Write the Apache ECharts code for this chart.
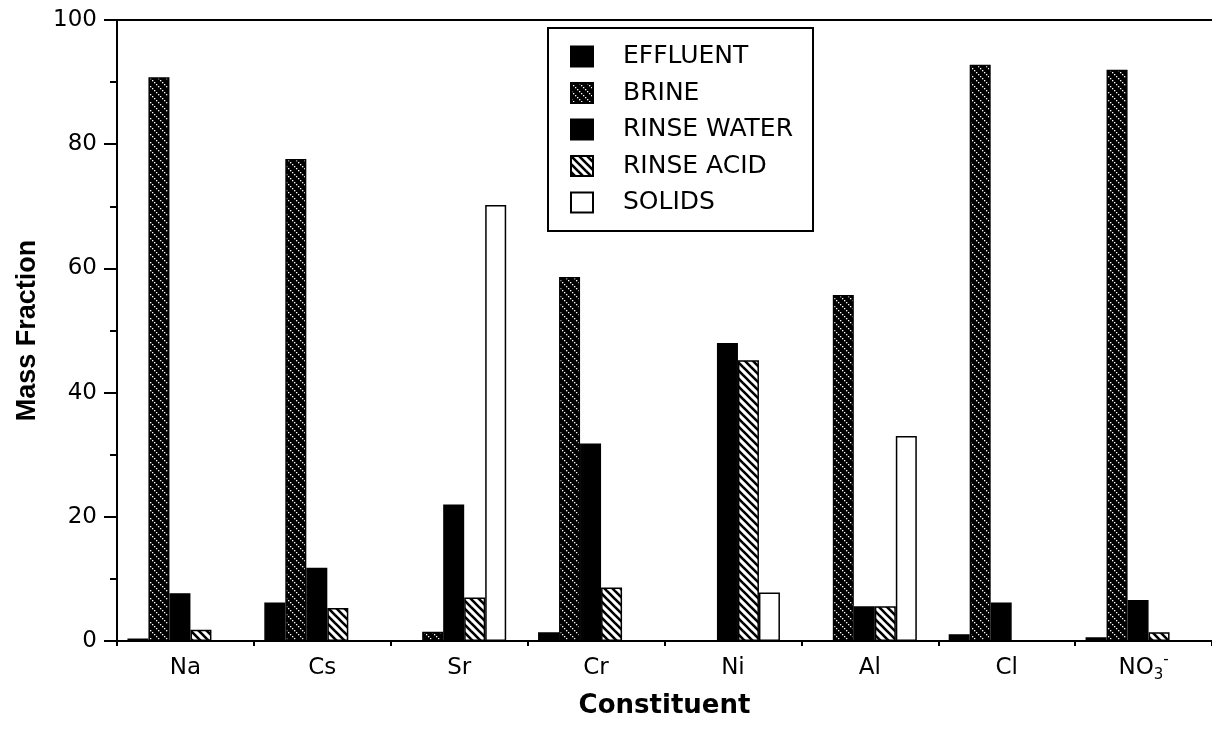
<!DOCTYPE html>
<html>
<head>
<meta charset="utf-8">
<script src="https://cdn.jsdelivr.net/npm/echarts@6/dist/echarts.min.js"></script>
<style>
  html, body { margin: 0; padding: 0; background: #fff; }
  #main { width: 1212px; height: 742px; }
</style>
</head>
<body>
<div id="main"></div>
<script>
const constituents = ['Na', 'Cs', 'Sr', 'Cr', 'Ni', 'Al', 'Cl', 'NO3']
const effluent = [0.4, 6.2, 0, 1.4, 0, 0, 1.1, 0.6]
const brine = [90.8, 77.6, 1.5, 58.6, 0, 55.7, 92.8, 92.0]
const rinseWater = [7.7, 11.8, 22.0, 31.8, 48.0, 5.6, 6.2, 6.6]
const rinseAcid = [1.8, 5.3, 7.0, 8.6, 45.2, 5.6, 0, 1.4]
const solids = [0, 0, 70.2, 0, 7.8, 33.0, 0, 0]
const yTicks = { min: 0, max: 100, interval: 20 }

// fill patterns
function brinePattern() {
  const c = document.createElement('canvas')
  c.width = 8
  c.height = 8
  const g = c.getContext('2d')
  g.fillStyle = '#000'
  g.fillRect(0, 0, 8, 8)
  g.fillStyle = '#fff'
  ;[0, 2, 4, 6].forEach((t) => g.fillRect(t, t, 1.3, 1.3))
  return { image: c, repeat: 'repeat' }
}
function acidPattern() {
  const c = document.createElement('canvas')
  c.width = 8
  c.height = 8
  const g = c.getContext('2d')
  g.fillStyle = '#fff'
  g.fillRect(0, 0, 8, 8)
  g.strokeStyle = '#000'
  g.lineWidth = 2.6
  ;[-8, 0, 8].forEach((k) => {
    g.beginPath()
    g.moveTo(k - 1, -1)
    g.lineTo(k + 9, 9)
    g.stroke()
  })
  return { image: c, repeat: 'repeat' }
}

const font = 'DejaVu Sans'
const border = { borderColor: '#000', borderWidth: 1.5 }
const black = { color: '#000', width: 2 }
const box = { left: 117, top: 20, width: 1104, height: 621 }

function barSeries(name, data, color) {
  return {
    name,
    type: 'bar',
    data,
    barWidth: 21,
    barGap: '0%',
    itemStyle: Object.assign({ color }, border)
  }
}

const chart = echarts.init(document.getElementById('main'))

const option = {
  animation: false,
  backgroundColor: '#fff',
  // second grid only carries the short ticks and the top frame line
  grid: [Object.assign({}, box), Object.assign({}, box)],
  legend: {
    data: ['EFFLUENT', 'BRINE', 'RINSE WATER', 'RINSE ACID', 'SOLIDS'],
    orient: 'vertical',
    left: 548,
    top: 28,
    icon: 'rect',
    itemWidth: 22,
    itemHeight: 20,
    itemGap: 11.5,
    padding: [16, 20, 16, 22],
    borderColor: '#000',
    borderWidth: 2,
    backgroundColor: '#fff',
    textStyle: {
      fontFamily: font,
      fontSize: 25,
      color: '#000',
      padding: [0, 0, 0, 25]
    }
  },
  xAxis: [
    {
      type: 'category',
      gridIndex: 0,
      data: constituents,
      name: 'Constituent',
      nameLocation: 'middle',
      nameGap: 52,
      nameTextStyle: {
        fontFamily: font,
        fontWeight: 'bold',
        fontSize: 26,
        color: '#000'
      },
      axisLine: { lineStyle: black },
      axisTick: { alignWithLabel: true, length: 11, lineStyle: black },
      axisLabel: {
        interval: 0,
        margin: 12,
        fontFamily: font,
        fontSize: 23,
        color: '#000',
        lineHeight: 30,
        formatter: (v) => (v === 'NO3' ? '{n|NO}{s|3}{p|-}' : v),
        rich: {
          n: { fontFamily: font, fontSize: 23, lineHeight: 30, color: '#000' },
          s: { fontFamily: font, fontSize: 15, lineHeight: 14, verticalAlign: 'bottom', color: '#000' },
          p: { fontFamily: font, fontSize: 15, lineHeight: 22, verticalAlign: 'top', color: '#000' }
        }
      },
      splitLine: { show: false }
    },
    {
      // short ticks between the groups
      type: 'category',
      gridIndex: 1,
      data: constituents,
      position: 'bottom',
      axisLine: { show: true, lineStyle: black },
      axisTick: { show: true, interval: 0, length: 5, lineStyle: black },
      axisLabel: { show: false },
      splitLine: { show: false }
    },
    {
      // frame line along the top
      type: 'category',
      gridIndex: 1,
      data: constituents,
      position: 'top',
      axisLine: { show: true, lineStyle: black },
      axisTick: { show: false },
      axisLabel: { show: false },
      splitLine: { show: false }
    }
  ],
  yAxis: [
    {
      type: 'value',
      gridIndex: 0,
      min: yTicks.min,
      max: yTicks.max,
      interval: yTicks.interval,
      name: 'Mass Fraction',
      nameLocation: 'middle',
      nameGap: 76,
      nameTextStyle: {
        fontFamily: 'Liberation Sans',
        fontWeight: 'bold',
        fontSize: 27,
        color: '#000'
      },
      axisLine: { show: true, lineStyle: black },
      axisTick: { show: true, length: 13, lineStyle: black },
      minorTick: { show: true, splitNumber: 2, length: 7, lineStyle: black },
      axisLabel: { margin: 20, fontFamily: font, fontSize: 23, color: '#000' },
      splitLine: { show: false }
    },
    {
      type: 'value',
      gridIndex: 1,
      min: yTicks.min,
      max: yTicks.max,
      axisLine: { show: false },
      axisTick: { show: false },
      axisLabel: { show: false },
      splitLine: { show: false }
    }
  ],
  series: [
    barSeries('EFFLUENT', effluent, '#000'),
    barSeries('BRINE', brine, brinePattern()),
    barSeries('RINSE WATER', rinseWater, '#000'),
    barSeries('RINSE ACID', rinseAcid, acidPattern()),
    barSeries('SOLIDS', solids, '#fff'),
    // empty spacer: the groups sit a little left of the ticks in the original
    { name: 'spacer', type: 'bar', data: [], barWidth: 11, barGap: '0%' }
  ]
}

chart.setOption(option)
</script>
</body>
</html>
